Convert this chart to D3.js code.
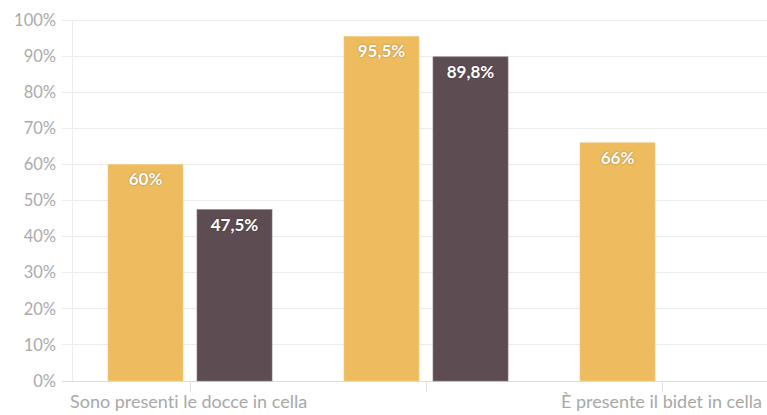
<!DOCTYPE html>
<html><head><meta charset="utf-8">
<script src="https://cdn.jsdelivr.net/npm/d3@7"></script>
<style>
html,body{margin:0;padding:0;background:#fff;}
svg{display:block;font-family:Lato,"Open Sans",sans-serif;font-variant-ligatures:none;}
</style></head>
<body>
<svg id="c" width="767" height="415"></svg>
<script>
const categories = ["Sono presenti le docce in cella", "", "È presente il bidet in cella"];
const seriesA = [60, 95.5, 66];
const seriesB = [47.5, 89.8, null];
const yTicks = [0,10,20,30,40,50,60,70,80,90,100];
const seriesNames = ["A","B"];
const colors = ["#EEBC5E", "#5D4D53"];

(function(){
const svg = d3.select("#c");
const mLeft = 72, mTop = 20, mBottom = 381;
const bandW = 236;
const x = d3.scaleBand().domain(categories.map((d,i)=>i)).range([mLeft, mLeft + bandW*categories.length]).paddingInner(0).paddingOuter(0);
const xs = d3.scaleBand().domain(seriesNames).range([0, x.bandwidth()]).paddingInner(0.157).paddingOuter(0.404);
const y = d3.scaleLinear().domain([0,100]).range([mBottom, mTop]);

// grid
svg.append("g").selectAll("line").data(yTicks).join("line")
  .attr("x1", mLeft-10).attr("x2", 767).attr("y1", d=>y(d)).attr("y2", d=>y(d))
  .attr("stroke", d=> d===0 ? "#dcdcdc" : "#ececec").attr("stroke-width",1).attr("shape-rendering","crispEdges");
svg.append("line").attr("x1",mLeft).attr("x2",mLeft).attr("y1",mTop).attr("y2",mBottom)
  .attr("stroke","#ececec").attr("shape-rendering","crispEdges");

// y labels
const yAxis = d3.axisLeft(y).tickValues(yTicks).tickFormat(d=>d+"%").tickSize(0).tickPadding(16);
const yg = svg.append("g").attr("transform",`translate(${mLeft},0)`).call(yAxis);
yg.select(".domain").remove();
yg.selectAll("text").attr("fill","#aaaaaa").style("font-size","16.5px").style("font-family","Lato, sans-serif");

// x axis
const xAxis = d3.axisBottom(x).tickFormat(i=>categories[i]).tickSize(11).tickPadding(3);
const xg = svg.append("g").attr("transform",`translate(0,${mBottom})`).call(xAxis);
xg.select(".domain").remove();
xg.selectAll("line").attr("stroke","#e0e0e0").attr("shape-rendering","crispEdges");
xg.selectAll("text").attr("fill","#a8a8a8").style("font-size","18px").style("font-family","Lato, sans-serif");
xg.selectAll(".tick").each(function(i){
  const t = d3.select(this).select("text");
  if(i===0){ t.attr("text-anchor","start").attr("x", mLeft-2 - x(i) - x.bandwidth()/2); }
  if(i===categories.length-1){ t.attr("text-anchor","end").attr("x", 762 - x(i) - x.bandwidth()/2); }
});

// bars
const rows = categories.map((c,i)=>({i, vals:[seriesA[i], seriesB[i]]}));
const g = svg.append("g");
rows.forEach(r=>{
  r.vals.forEach((v,k)=>{
    if(v==null) return;
    const bx = x(r.i) + xs(seriesNames[k]);
    g.append("rect").attr("x",bx).attr("y",y(v)).attr("width",xs.bandwidth()).attr("height",y(0)-y(v))
      .attr("fill",colors[k]).attr("stroke", k===0? "#f3cf8c":"#8a7d81").attr("stroke-width",0.6);
    g.append("text").attr("x",bx+xs.bandwidth()/2).attr("y",y(v)+21)
      .attr("text-anchor","middle").attr("fill","#fff")
      .style("font-size","17px").style("font-weight","bold").style("font-family","Lato, sans-serif")
      .style("text-shadow","0 0 2px rgba(0,0,0,0.35)")
      .text(String(v).replace(".",",")+"%");
  });
});
})();
</script>
</body></html>
